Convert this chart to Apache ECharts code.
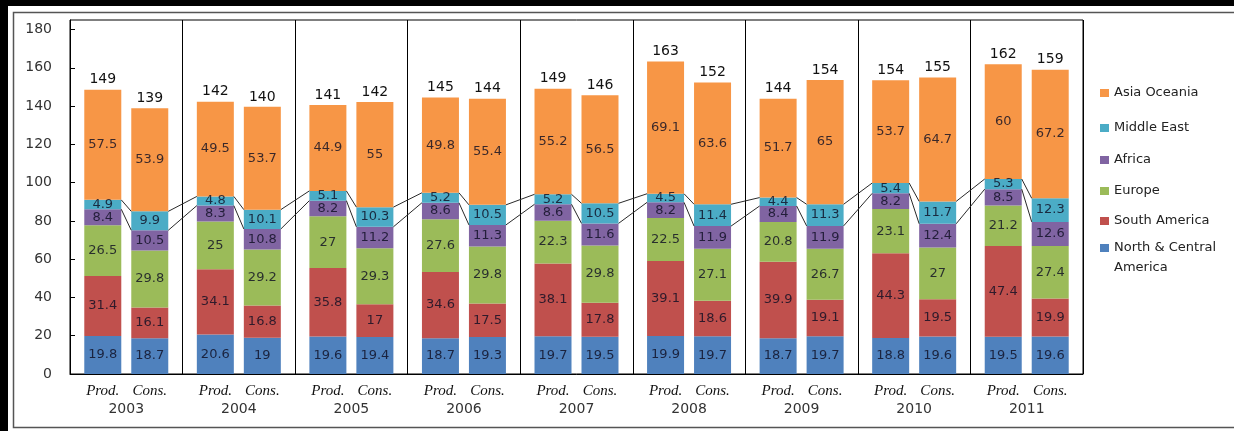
<!DOCTYPE html>
<html>
<head>
<meta charset="utf-8">
<script src="https://cdn.jsdelivr.net/npm/echarts@6/dist/echarts.min.js"></script>
<style>
  html, body { margin: 0; padding: 0; background: #fff; }
  #chart { width: 1234px; height: 431px; }
</style>
</head>
<body>
<div id="chart"></div>
<script>
// Years on the category axis
const years = ['2003', '2004', '2005', '2006', '2007', '2008', '2009', '2010', '2011'];
const yTicks = [0, 20, 40, 60, 80, 100, 120, 140, 160, 180];

// Production by region (stack order bottom -> top)
const prodNCA = [19.8, 20.6, 19.6, 18.7, 19.7, 19.9, 18.7, 18.8, 19.5];
const prodSA  = [31.4, 34.1, 35.8, 34.6, 38.1, 39.1, 39.9, 44.3, 47.4];
const prodEU  = [26.5, 25, 27, 27.6, 22.3, 22.5, 20.8, 23.1, 21.2];
const prodAF  = [8.4, 8.3, 8.2, 8.6, 8.6, 8.2, 8.4, 8.2, 8.5];
const prodME  = [4.9, 4.8, 5.1, 5.2, 5.2, 4.5, 4.4, 5.4, 5.3];
const prodAO  = [57.5, 49.5, 44.9, 49.8, 55.2, 69.1, 51.7, 53.7, 60];

// Consumption by region
const consNCA = [18.7, 19, 19.4, 19.3, 19.5, 19.7, 19.7, 19.6, 19.6];
const consSA  = [16.1, 16.8, 17, 17.5, 17.8, 18.6, 19.1, 19.5, 19.9];
const consEU  = [29.8, 29.2, 29.3, 29.8, 29.8, 27.1, 26.7, 27, 27.4];
const consAF  = [10.5, 10.8, 11.2, 11.3, 11.6, 11.9, 11.9, 12.4, 12.6];
const consME  = [9.9, 10.1, 10.3, 10.5, 10.5, 11.4, 11.3, 11.7, 12.3];
const consAO  = [53.9, 53.7, 55, 55.4, 56.5, 63.6, 65, 64.7, 67.2];

const regions = ['North & Central America', 'South America', 'Europe', 'Africa', 'Middle East', 'Asia Oceania'];
const legendOrder = ['Asia Oceania', 'Middle East', 'Africa', 'Europe', 'South America', 'North & Central America'];

// ---- styling ----
const FONT = 'DejaVu Sans';
const colors = ['#4f81bd', '#c0504d', '#9bbb59', '#8064a2', '#4bacc6', '#f79646'];
const BAR_W = 37;
const BAR_GAP_PX = 10;
const barGap = (BAR_GAP_PX / BAR_W * 100).toFixed(1) + '%';

const prodSets = [prodNCA, prodSA, prodEU, prodAF, prodME, prodAO];
const consSets = [consNCA, consSA, consEU, consAF, consME, consAO];

const cumulative = (sets, upTo) => years.map((_, i) => {
  let s = 0;
  for (let k = 0; k <= upTo; k++) s += sets[k][i];
  return Math.round(s * 10) / 10;
});
const prodTotal = cumulative(prodSets, 5);
const consTotal = cumulative(consSets, 5);
const prodAfricaTop = cumulative(prodSets, 3);
const prodMETop = cumulative(prodSets, 4);
const consAfricaTop = cumulative(consSets, 3);
const consMETop = cumulative(consSets, 4);

const segLabel = {
  show: true,
  position: 'inside',
  color: 'rgba(15,15,35,0.82)',
  fontFamily: FONT,
  fontSize: 13
};

function stackSeries(sets, stack, totals) {
  const out = sets.map((data, k) => ({
    type: 'bar',
    name: regions[k],
    stack: stack,
    data: data,
    barWidth: BAR_W,
    barGap: barGap,
    itemStyle: { color: colors[k] },
    label: segLabel,
    emphasis: { disabled: true }
  }));
  // zero-height cap carrying the rounded stack total
  out.push({
    type: 'bar',
    name: stack + '-total',
    stack: stack,
    data: years.map(() => 0),
    barWidth: BAR_W,
    barGap: barGap,
    itemStyle: { color: 'transparent' },
    label: {
      show: true,
      position: 'top',
      distance: 3,
      color: '#111',
      fontFamily: FONT,
      fontSize: 14,
      formatter: p => String(Math.round(totals[p.dataIndex]))
    },
    emphasis: { disabled: true }
  });
  return out;
}

// Series lines joining the Africa and Middle East tops of neighbouring bars
const seriesLines = {
  type: 'custom',
  name: 'series-lines',
  data: years.map((_, i) => [i, 0]),
  encode: { x: 0, y: 1 },
  z: 5,
  silent: true,
  renderItem: function (params, api) {
    const i = api.value(0);
    const c = api.coord([i, 0])[0];
    const y = v => api.coord([i, v])[1];
    const half = BAR_GAP_PX / 2;
    const style = { stroke: '#2a2a2a', lineWidth: 1, fill: null };
    const children = [
      { type: 'line', shape: { x1: c - half, y1: y(prodAfricaTop[i]), x2: c + half, y2: y(consAfricaTop[i]) }, style },
      { type: 'line', shape: { x1: c - half, y1: y(prodMETop[i]), x2: c + half, y2: y(consMETop[i]) }, style }
    ];
    if (i < years.length - 1) {
      const cn = api.coord([i + 1, 0])[0];
      children.push(
        { type: 'line', shape: { x1: c + half + BAR_W, y1: y(consAfricaTop[i]), x2: cn - half - BAR_W, y2: y(prodAfricaTop[i + 1]) }, style },
        { type: 'line', shape: { x1: c + half + BAR_W, y1: y(consMETop[i]), x2: cn - half - BAR_W, y2: y(prodMETop[i + 1]) }, style }
      );
    }
    return { type: 'group', children };
  }
};

// one legend block per entry so each row sits where it should
const legendCenters = [93, 128, 160, 191, 221, 248];
const legends = legendOrder.map((name, k) => {
  const wrapped = name === 'North & Central America';
  return {
    data: [name],
    orient: 'vertical',
    left: 1100,
    top: wrapped ? legendCenters[k] - 30 : legendCenters[k] - 8,
    padding: 0,
    icon: 'rect',
    itemWidth: 9,
    itemHeight: 8,
    itemGap: 0,
    selectedMode: false,
    // the wrapped entry keeps its first line level with the swatch
    formatter: n => (n === 'North & Central America' ? ' \nNorth & Central\nAmerica' : n),
    textStyle: wrapped
      ? { fontFamily: FONT, fontSize: 13, color: '#222', lineHeight: 20 }
      : { fontFamily: FONT, fontSize: 13, color: '#222', lineHeight: 16 }
  };
});

const option = {
  animation: false,
  backgroundColor: '#fff',
  textStyle: { fontFamily: FONT },
  grid: {
    left: 70, right: 151, top: 20, bottom: 57,
    show: true, borderColor: '#000', borderWidth: 1, backgroundColor: 'transparent'
  },
  legend: legends,
  xAxis: {
    type: 'category',
    data: years,
    axisLine: { show: true, lineStyle: { color: '#000', width: 1 } },
    axisTick: { show: false },
    splitLine: { show: true, interval: 0, lineStyle: { color: '#000', width: 1 } },
    axisLabel: {
      interval: 0,
      margin: 8,
      formatter: v => '{p|Prod.}{c|Cons.}\n{y|' + v + '}',
      rich: {
        p: { fontFamily: 'Liberation Serif', fontStyle: 'italic', fontSize: 15, color: '#111', width: 47, align: 'center', lineHeight: 18 },
        c: { fontFamily: 'Liberation Serif', fontStyle: 'italic', fontSize: 15, color: '#111', width: 47, align: 'center', lineHeight: 18 },
        y: { fontFamily: FONT, fontSize: 14, color: '#333', lineHeight: 18, align: 'center' }
      }
    }
  },
  yAxis: {
    type: 'value',
    min: 0,
    max: 185,
    interval: 20,
    axisLine: { show: true, lineStyle: { color: '#000' } },
    axisTick: { show: true, inside: true, length: 5, lineStyle: { color: '#000' } },
    splitLine: { show: false },
    axisLabel: {
      showMaxLabel: false,
      margin: 18,
      color: '#333',
      fontFamily: FONT,
      fontSize: 14,
      formatter: v => (yTicks.indexOf(v) >= 0 ? String(v) : '')
    }
  },
  graphic: [
    { type: 'rect', shape: { x: 0, y: 0, width: 1234, height: 6 }, style: { fill: '#000' }, silent: true },
    { type: 'rect', shape: { x: 0, y: 0, width: 8, height: 431 }, style: { fill: '#000' }, silent: true },
    { type: 'rect', shape: { x: 13.5, y: 12.5, width: 1240, height: 415 }, style: { fill: 'none', stroke: '#555', lineWidth: 1.5 }, silent: true }
  ],
  series: [
    ...stackSeries(prodSets, 'prod', prodTotal),
    ...stackSeries(consSets, 'cons', consTotal),
    seriesLines
  ]
};

const chart = echarts.init(document.getElementById('chart'), null, { renderer: 'canvas' });
chart.setOption(option);
</script>
</body>
</html>
